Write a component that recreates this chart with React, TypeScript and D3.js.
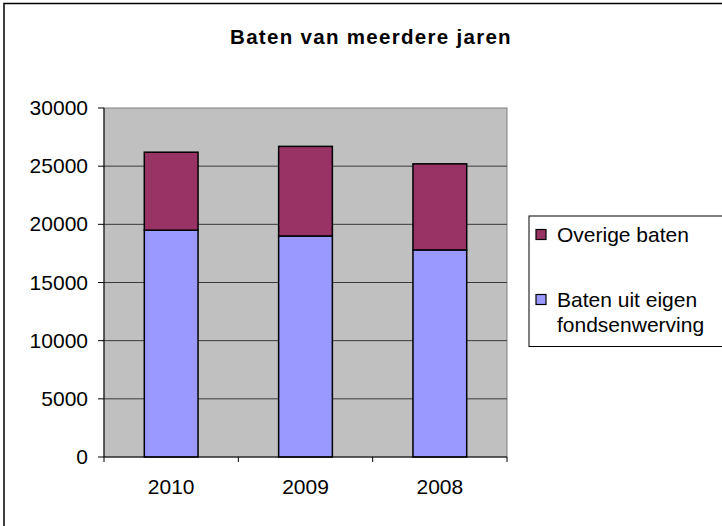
import React from 'react';
import { scaleBand, scaleLinear, stack } from 'd3';

const years = ['2010', '2009', '2008'];
const eigenFondsenwerving = [19500, 19000, 17800];
const overigeBaten = [6700, 7700, 7400];
const yTicks = [0, 5000, 10000, 15000, 20000, 25000, 30000];

const seriesNames = ['Baten uit eigen fondsenwerving', 'Overige baten'];
const seriesColors = ['#9999FF', '#993366'];

const W = 722;
const H = 526;
const plot = { left: 104, right: 507, top: 108, bottom: 457 };
const font = '"Liberation Sans", Arial, sans-serif';

const App = () => {
  const rows = years.map((y, i) => ({
    year: y,
    eigen: eigenFondsenwerving[i],
    overig: overigeBaten[i]
  }));
  const layers = stack<any>().keys(['eigen', 'overig'])(rows);

  const x = scaleBand()
    .domain(years)
    .range([plot.left, plot.right])
    .paddingInner(0.6)
    .paddingOuter(0.3);
  const xStep = scaleBand().domain(years).range([plot.left, plot.right]);
  const y = scaleLinear().domain([0, 30000]).range([plot.bottom, plot.top]);

  return (
    <svg
      width={W}
      height={H}
      style={{ position: 'absolute', left: 0, top: 0, background: '#fff' }}
      fontFamily={font}
    >
      <rect x={4} y={3.5} width={W} height={H} fill="#fff" stroke="#000" strokeWidth={1.5} />

      <text x={371} y={44} textAnchor="middle" fontSize={20.5} fontWeight="bold" letterSpacing={1.3}>
        Baten van meerdere jaren
      </text>

      <rect
        x={plot.left}
        y={plot.top}
        width={plot.right - plot.left}
        height={plot.bottom - plot.top}
        fill="#C0C0C0"
        stroke="#808080"
        strokeWidth={1}
      />

      {yTicks.filter(t => t > 0 && t < 30000).map(t => (
        <line key={t} x1={plot.left} x2={plot.right} y1={y(t)} y2={y(t)} stroke="#3a3a3a" strokeWidth={1} />
      ))}

      {layers.map((layer, li) => (
        <g key={layer.key}>
          {layer.map((d, i) => (
            <rect
              key={i}
              x={x(years[i])}
              y={y(d[1])}
              width={x.bandwidth()}
              height={y(d[0]) - y(d[1])}
              fill={seriesColors[li]}
              stroke="#000"
              strokeWidth={1.5}
            />
          ))}
        </g>
      ))}

      <line x1={plot.left} x2={plot.left} y1={plot.top} y2={plot.bottom} stroke="#000" />
      <line x1={plot.left} x2={plot.right} y1={plot.bottom} y2={plot.bottom} stroke="#000" />

      {yTicks.map(t => (
        <g key={t}>
          <line x1={plot.left - 6} x2={plot.left} y1={y(t)} y2={y(t)} stroke="#000" />
          <text x={88} y={y(t) + 7} textAnchor="end" fontSize={21}>
            {t}
          </text>
        </g>
      ))}

      {[...years.map(v => xStep(v) as number), plot.right].map((px, i) => (
        <line key={i} x1={px} x2={px} y1={plot.bottom} y2={plot.bottom + 5} stroke="#000" />
      ))}
      {years.map(v => (
        <text key={v} x={(x(v) as number) + x.bandwidth() / 2} y={494} textAnchor="middle" fontSize={21}>
          {v}
        </text>
      ))}

      <rect x={529} y={216} width={W} height={130.5} fill="#fff" stroke="#000" strokeWidth={1} />
      <rect x={536} y={229.5} width={10} height={10} fill={seriesColors[1]} stroke="#000" strokeWidth={1.2} />
      <text x={557} y={241.5} fontSize={21}>{seriesNames[1]}</text>
      <rect x={536} y={294.5} width={10} height={10} fill={seriesColors[0]} stroke="#000" strokeWidth={1.2} />
      <text x={557} y={306.5} fontSize={21}>
        <tspan x={557}>Baten uit eigen</tspan>
        <tspan x={557} dy={25}>fondsenwerving</tspan>
      </text>
    </svg>
  );
};

export default App;
